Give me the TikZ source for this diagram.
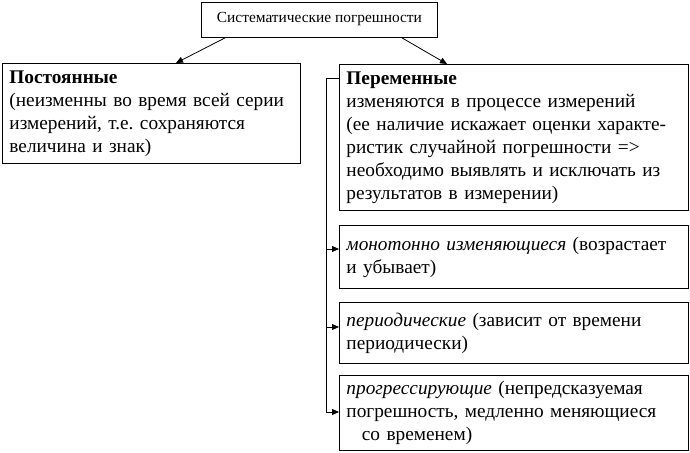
\documentclass[tikz,border=0pt]{standalone}
\usepackage{fontspec}
\setmainfont{Liberation Serif}
\usetikzlibrary{arrows.meta}
\frenchspacing
\begin{document}
\begin{tikzpicture}[x=1pt,y=1pt,
  box/.style={draw=black, line width=0.9pt, anchor=north west, inner sep=0pt, align=left,
     font=\fontsize{19.3}{23}\selectfont},
  arr/.style={line width=0.8pt, -{Triangle[length=7pt,width=6pt]}},
  ln/.style={line width=0.8pt}]
\useasboundingbox (0,0) rectangle (690,-452);
\fill[white] (0,0) rectangle (690,-452);
% top
\node[draw=black, line width=0.9pt, anchor=north west, minimum width=236pt, minimum height=35pt, inner sep=0pt,
  font=\fontsize{15.4}{17}\selectfont] (top) at (201,-2) {\raisebox{6pt}{Систематические погрешности}};
% left box
\node[box, minimum width=298pt, minimum height=100pt, text width=284pt, inner xsep=7pt] (const) at (2,-63)
 {\textbf{Постоянные}\\(неизменны во время всей серии\\измерений, т.е. сохраняются\\величина и знак)};
% right box
\node[box, minimum width=349pt, minimum height=146pt, text width=335pt, inner xsep=7pt] (var) at (339,-64)
 {\textbf{Переменные}\\изменяются в процессе измерений\\(ее наличие искажает оценки характе-\\ристик случайной погрешности =>\\необходимо выявлять и исключать из\\результатов в измерении)};
\node[box, minimum width=349pt, minimum height=63pt, text width=335pt, inner xsep=7pt] (mono) at (339,-225)
 {\textit{монотонно изменяющиеся} (возрастает\\и убывает)};
\node[box, minimum width=349pt, minimum height=61pt, text width=335pt, inner xsep=7pt] (per) at (339,-302)
 {\textit{периодические} (зависит от времени\\периодически)};
\node[box, minimum width=349pt, minimum height=75pt, text width=335pt, inner xsep=7pt] (prog) at (339,-375)
 {\textit{прогрессирующие} (непредсказуемая\\погрешность, медленно меняющиеся\\\hspace*{0.8em}со временем)};
% connectors from top
\draw[arr] ([xshift=24pt]top.south west) -- ([xshift=174pt]const.north west);
\draw[arr] ([xshift=201pt]top.south west) -- ([xshift=108pt]var.north west);
% bracket
\coordinate (bt) at (326,-78);
\coordinate (bb) at (326,-412);
\draw[ln] ([yshift=-14pt]var.north west) -- (bt) -- (bb);
\draw[arr] ([yshift=-24pt]mono.north west -| bt) -- ([yshift=-24pt]mono.north west);
\draw[arr] ([yshift=-25pt]per.north west -| bt) -- ([yshift=-25pt]per.north west);
\draw[arr] (bb) -- (bb -| prog.west);
\end{tikzpicture}
\end{document}
